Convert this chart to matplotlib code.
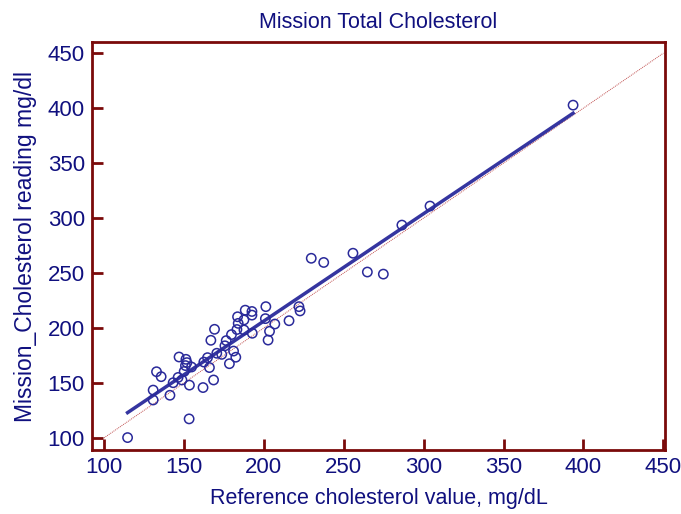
import numpy as np
import matplotlib
matplotlib.use("Agg")
import matplotlib.pyplot as plt

plt.rcParams['font.family'] = ['Liberation Sans', 'DejaVu Sans']

ref = [114.8, 153.3, 130.8, 130.8, 141.3, 132.9, 135.8, 143.3, 146.4, 147.0,
       151.3, 151.9, 151.0, 150.2, 148.8, 153.5, 154.8, 162.0, 162.5, 164.8,
       166.0, 168.6, 166.9, 169.2, 170.6, 173.7, 175.7, 176.5, 178.5, 179.8,
       181.1, 182.5, 183.2, 183.6, 184.0, 187.6, 188.4, 192.6, 192.6, 187.6,
       192.8, 201.0, 201.3, 203.6, 202.7, 206.9, 215.8, 222.0, 222.7, 229.7,
       237.5, 255.8, 264.8, 274.8, 286.4, 304.0, 393.5]
mission = [100.3, 117.3, 143.5, 134.5, 138.8, 160.2, 155.7, 150.2, 155.0, 173.6,
           171.5, 168.5, 165.8, 160.5, 152.7, 148.0, 164.5, 145.8, 169.0, 173.0,
           164.0, 152.7, 188.8, 198.8, 177.0, 176.0, 183.8, 188.5, 167.5, 194.0,
           179.0, 173.4, 198.6, 210.2, 204.2, 207.3, 216.2, 215.0, 211.7, 198.2,
           195.2, 208.5, 219.4, 197.0, 189.0, 203.6, 206.6, 219.4, 215.5, 263.4,
           259.6, 268.0, 250.9, 249.0, 293.6, 310.9, 402.7]

x_ticks = [100, 150, 200, 250, 300, 350, 400, 450]
y_ticks = [100, 150, 200, 250, 300, 350, 400, 450]

navy = '#10107f'
frame = '#7a0a0a'

fig = plt.figure(figsize=(6.81, 5.14), dpi=100)
ax = fig.add_axes([0.135, 0.1245, 0.8415, 0.7935])

# line of identity
ax.plot([100, 450], [100, 450], color='#c05050', lw=0.7, ls=(0, (1, 1)), zorder=1)

# regression line over the data range
slope, intercept = np.polyfit(ref, mission, 1)
xs = np.array([min(ref), max(ref)])
ax.plot(xs, intercept + slope * xs, color='#3535a0', lw=2.5, zorder=2)

ax.scatter(ref, mission, s=45, facecolors='none', edgecolors='#2a2a9a',
           linewidths=1.1, zorder=3)

ax.set_xlim(92.5, 451)
ax.set_ylim(89, 460)
ax.set_xticks(x_ticks)
ax.set_yticks(y_ticks)

for sp in ax.spines.values():
    sp.set_color(frame)
    sp.set_linewidth(2)
ax.tick_params(direction='in', length=8, width=2, color=frame,
               labelcolor=navy, labelsize=16, pad=5)

ax.set_title("Mission Total Cholesterol", color=navy, fontsize=15.5, pad=10)
ax.set_xlabel("Reference cholesterol value, mg/dL", color=navy, fontsize=15.5, labelpad=7)
ax.set_ylabel("Mission_Cholesterol reading mg/dl", color=navy, fontsize=16.5, labelpad=8)

plt.savefig("out.png", dpi=100)
